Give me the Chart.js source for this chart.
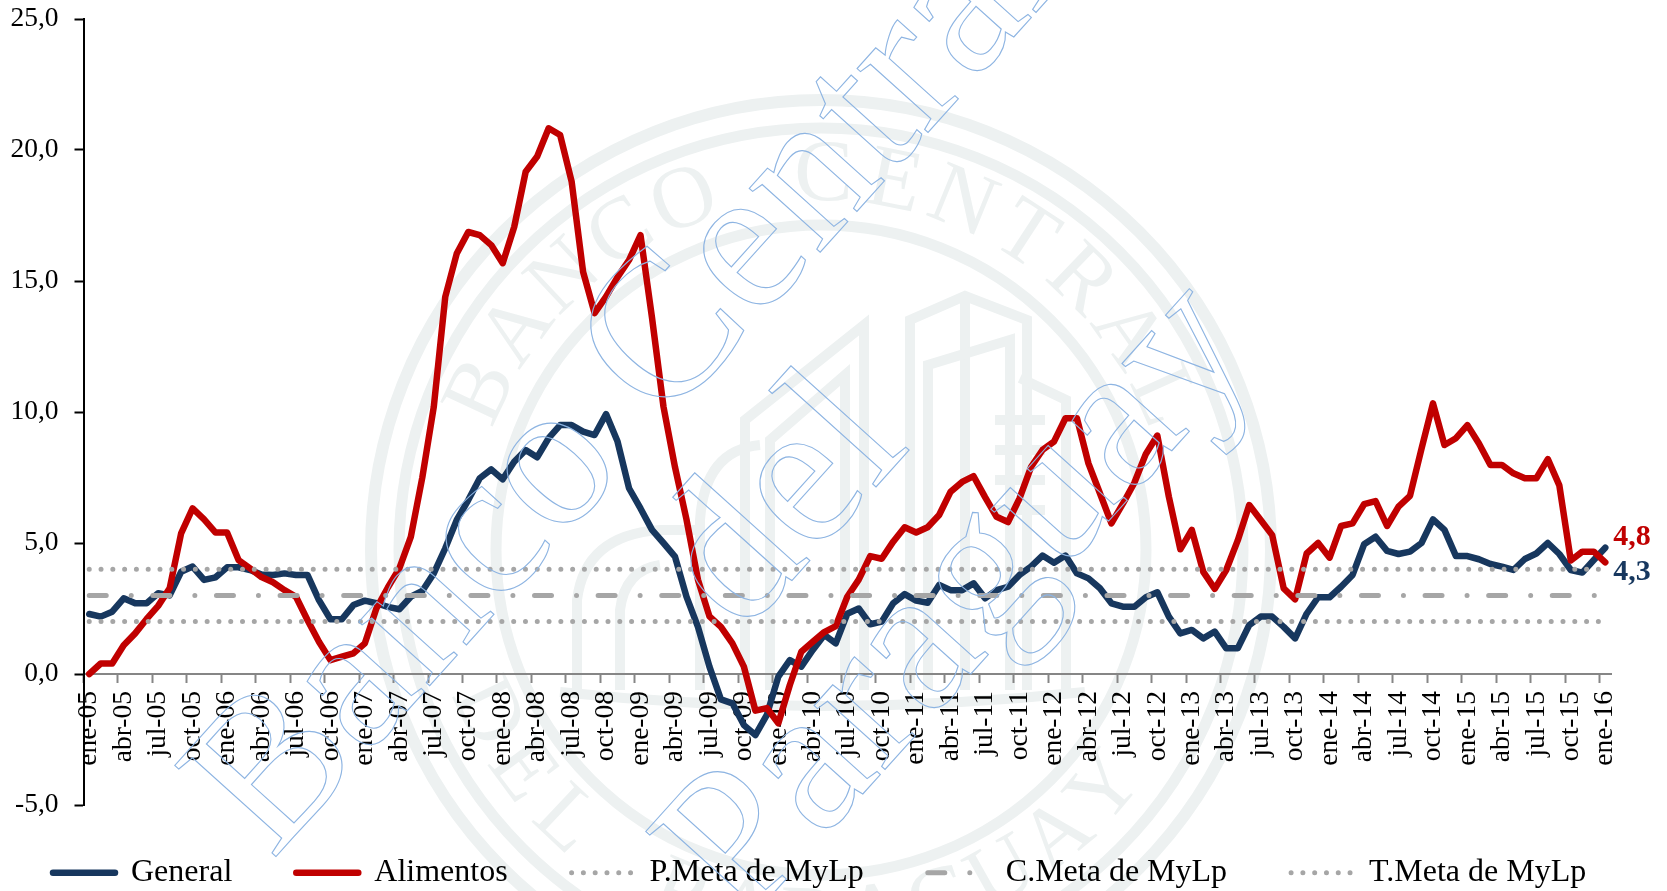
<!DOCTYPE html>
<html><head><meta charset="utf-8">
<style>html,body{margin:0;padding:0;background:#fff}canvas{display:block}</style>
<script src="https://cdn.jsdelivr.net/npm/chart.js@4"></script>
</head><body><div style="width:1667px;height:891px"><canvas id="c" width="1667" height="891"></canvas></div>
<script>
const monthNames=['ene','feb','mar','abr','may','jun','jul','ago','sep','oct','nov','dic'];
const startYear=5;
const general=[2.29,2.19,2.38,2.89,2.7,2.7,3.08,3.0,3.9,4.1,3.59,3.69,4.07,4.07,3.97,3.8,3.78,3.84,3.78,3.78,2.82,2.09,2.09,2.63,2.8,2.7,2.56,2.47,2.95,3.17,3.84,4.8,5.88,6.64,7.47,7.81,7.43,8.1,8.55,8.27,9.0,9.5,9.5,9.25,9.12,9.92,8.87,7.09,6.32,5.5,5.0,4.48,2.95,1.8,0.28,-0.97,-1.12,-1.95,-2.33,-1.56,-0.1,0.53,0.28,0.92,1.49,1.17,2.3,2.5,1.9,2.0,2.7,3.05,2.8,2.72,3.4,3.2,3.2,3.46,2.89,3.2,3.33,3.78,4.1,4.52,4.25,4.52,3.84,3.65,3.27,2.7,2.57,2.57,2.93,3.12,2.19,1.55,1.68,1.36,1.62,0.98,0.98,1.87,2.19,2.19,1.8,1.36,2.3,2.93,2.93,3.33,3.78,4.95,5.24,4.7,4.58,4.67,5.0,5.9,5.5,4.5,4.5,4.38,4.2,4.1,3.97,4.39,4.6,5.0,4.58,3.97,3.87,4.35,4.82];
const alimentos=[0.0,0.4,0.4,1.1,1.55,2.1,2.6,3.27,5.37,6.32,5.9,5.4,5.4,4.35,4.03,3.7,3.5,3.2,2.95,2.06,1.23,0.53,0.66,0.79,1.17,2.5,3.3,4.03,5.23,7.5,10.2,14.4,16.05,16.87,16.75,16.37,15.68,17.06,19.17,19.75,20.83,20.57,18.8,15.35,13.77,14.4,15.15,15.8,16.75,13.6,10.2,7.9,5.9,3.6,2.2,1.8,1.17,0.28,-1.4,-1.3,-1.88,-0.42,0.85,1.23,1.6,1.83,2.95,3.6,4.5,4.4,5.05,5.6,5.4,5.6,6.07,6.96,7.33,7.55,6.75,6.0,5.8,6.7,7.9,8.55,8.87,9.76,9.76,8.04,6.9,5.75,6.5,7.3,8.4,9.1,6.77,4.76,5.5,3.9,3.25,3.97,5.1,6.45,5.88,5.3,3.27,2.85,4.6,5.0,4.44,5.65,5.75,6.48,6.6,5.65,6.39,6.8,8.6,10.33,8.74,9.0,9.5,8.8,7.98,7.98,7.66,7.47,7.47,8.2,7.2,4.33,4.67,4.67,4.26];
const categories=general.map((_,i)=>{const y=startYear+Math.floor(i/12);return monthNames[i%12]+'-'+String(y).padStart(2,'0');});
const pMeta=general.map(()=>4);
const cMeta=general.map(()=>3);
const tMeta=general.map(()=>2);
const seriesNames=['General','Alimentos','P.Meta de MyLp','C.Meta de MyLp','T.Meta de MyLp'];
const yTicks=[-5,0,5,10,15,20,25];
const endLabels=[{text:'4,8',value:5.23,color:'#C00000'},{text:'4,3',value:3.9,color:'#17375E'}];
const watermarkLines=[['Banco Central',272,861],['del',742,636],['Paraguay',743,927]];
const sealTop='BANCO CENTRAL';
const sealBottom='DEL PARAGUAY';

const SERIF='"Liberation Serif"';
const NAVY='#17375E',RED='#C00000',GREY='#A6A6A6',AXIS='#868686',SEAL='#EDF1F1',WM='#8DB4E2';
const dotted=[0.01,11.78],dashDot=[17,25,0.01,21.6];

const backdrop={id:'backdrop',beforeDraw(chart){
  const c=chart.ctx;c.save();
  const cx=821,cy=550;
  c.strokeStyle=SEAL;c.fillStyle=SEAL;
  [[450,12],[422,11],[325,11]].forEach(([r,w])=>{c.lineWidth=w;c.beginPath();c.arc(cx,cy,r,0,Math.PI*2);c.stroke();});
  c.font='88px '+SERIF;c.textAlign='center';c.textBaseline='middle';
  const deg=Math.PI/180;
  [...sealTop].forEach((ch,i)=>{const a=(-65+i*10.9)*deg;
    c.save();c.translate(cx+373*Math.sin(a),cy-373*Math.cos(a));c.rotate(a);c.fillText(ch,0,0);c.restore();});
  [...sealBottom].forEach((ch,i)=>{const a=(-64+i*10.36)*deg;
    c.save();c.translate(cx+373*Math.sin(a),cy+373*Math.cos(a));c.rotate(-a);c.fillText(ch,0,0);c.restore();});
  c.lineWidth=10;
  const seg=p=>{c.beginPath();c.moveTo(p[0],p[1]);for(let i=2;i<p.length;i+=2)c.lineTo(p[i],p[i+1]);c.stroke();};
  seg([910,690,910,320,965,296,1027,320,1027,690]);
  seg([965,296,965,690]);seg([928,690,928,365,1010,340,1010,690]);
  seg([864,690,864,325,745,420,745,690]);
  seg([845,690,845,375,770,440,770,690]);
  seg([1020,378,1066,400,1066,690]);
  seg([995,420,1045,420]);seg([995,450,1045,450]);seg([995,480,1045,480]);seg([995,510,1045,510]);
  c.beginPath();c.moveTo(700,690);c.lineTo(700,520);c.quadraticCurveTo(705,450,760,445);c.stroke();
  c.beginPath();c.moveTo(577,690);c.lineTo(577,600);c.quadraticCurveTo(585,535,660,530);c.lineTo(700,530);c.stroke();
  c.beginPath();c.moveTo(620,690);c.lineTo(620,610);c.quadraticCurveTo(625,570,660,565);c.stroke();
  c.beginPath();c.moveTo(560,692);c.quadraticCurveTo(820,720,1085,692);c.stroke();
  c.restore();
},afterLayout(chart){
  const l=chart.legend;l.top=876-l.options.labels.padding-l.options.labels.font.size*0.6;l.left=-11;l.right=4000;
  const y=chart.scales.y;y.top=19;y.bottom=805;y.height=786;y.configure();
  chart.chartArea.top=19;chart.chartArea.bottom=805;chart.chartArea.height=786;
},afterDraw(chart){
  const c=chart.ctx,meta=chart.scales.y;c.save();
  c.textAlign='left';c.textBaseline='middle';c.font='bold 30px '+SERIF;
  const last=chart.getDatasetMeta(0).data.at(-1);
  endLabels.forEach(l=>{c.fillStyle=l.color;c.fillText(l.text,last.x+8,meta.getPixelForValue(l.value));});
  c.strokeStyle=WM;c.lineWidth=1.1;c.textBaseline='alphabetic';
  c.font='208px '+SERIF;
  watermarkLines.forEach(([t,x,y])=>{c.save();c.translate(x,y);c.rotate(-48*Math.PI/180);c.strokeText(t,0,0);c.restore();});
  c.restore();
}};

new Chart(document.getElementById('c'),{
  type:'line',
  data:{labels:categories,datasets:[
    {label:seriesNames[0],data:general,borderColor:NAVY,borderWidth:6.5,order:5},
    {label:seriesNames[1],data:alimentos,borderColor:RED,borderWidth:6.5,order:4},
    {label:seriesNames[2],data:pMeta,borderColor:GREY,borderWidth:5,borderDash:dotted,order:3},
    {label:seriesNames[3],data:cMeta,borderColor:GREY,borderWidth:5,borderDash:dashDot,order:2},
    {label:seriesNames[4],data:tMeta,borderColor:GREY,borderWidth:5,borderDash:dotted,order:1}
  ]},
  options:{
    responsive:false,animation:false,
    layout:{autoPadding:false,padding:{top:6,right:56,bottom:-19.2,left:-150}},
    elements:{point:{radius:0},line:{tension:0,borderCapStyle:'round',borderJoinStyle:'round',fill:false}},
    scales:{
      x:{type:'category',offset:true,position:{y:0},
        border:{color:AXIS,width:2},
        grid:{offset:true,drawOnChartArea:false,tickLength:8,tickWidth:2,tickColor:c=>c.index%3===0?AXIS:'rgba(0,0,0,0)'},
        ticks:{autoSkip:false,maxRotation:90,minRotation:90,padding:9,color:'#000',font:{family:SERIF,size:27.5},
          callback(v,i){return i%3===0?categories[i]:'';}}
      },
      y:{min:yTicks[0],max:yTicks[yTicks.length-1],
        afterFit(s){s.width=233.5;},
        border:{color:'#000',width:2},
        grid:{drawOnChartArea:false,tickLength:9,tickWidth:2,tickColor:'#000'},
        ticks:{stepSize:5,padding:16,color:'#000',font:{family:SERIF,size:27.5},callback:v=>v.toFixed(1).replace('.',',')}
      }
    },
    plugins:{
      tooltip:{enabled:false},
      legend:{position:'bottom',align:'start',
        labels:{usePointStyle:true,pointStyle:'line',pointStyleWidth:62,boxHeight:6,padding:64,color:'#000',font:{family:SERIF,size:32},
          generateLabels(chart){return chart.data.datasets.map((d,i)=>({text:d.label,strokeStyle:d.borderColor,fillStyle:d.borderColor,lineWidth:d.borderWidth,lineDash:d.borderDash||[],lineCap:'round',pointStyle:'line',datasetIndex:i,hidden:false}));}
        }}
    }
  },
  plugins:[backdrop]
});
</script></body></html>
